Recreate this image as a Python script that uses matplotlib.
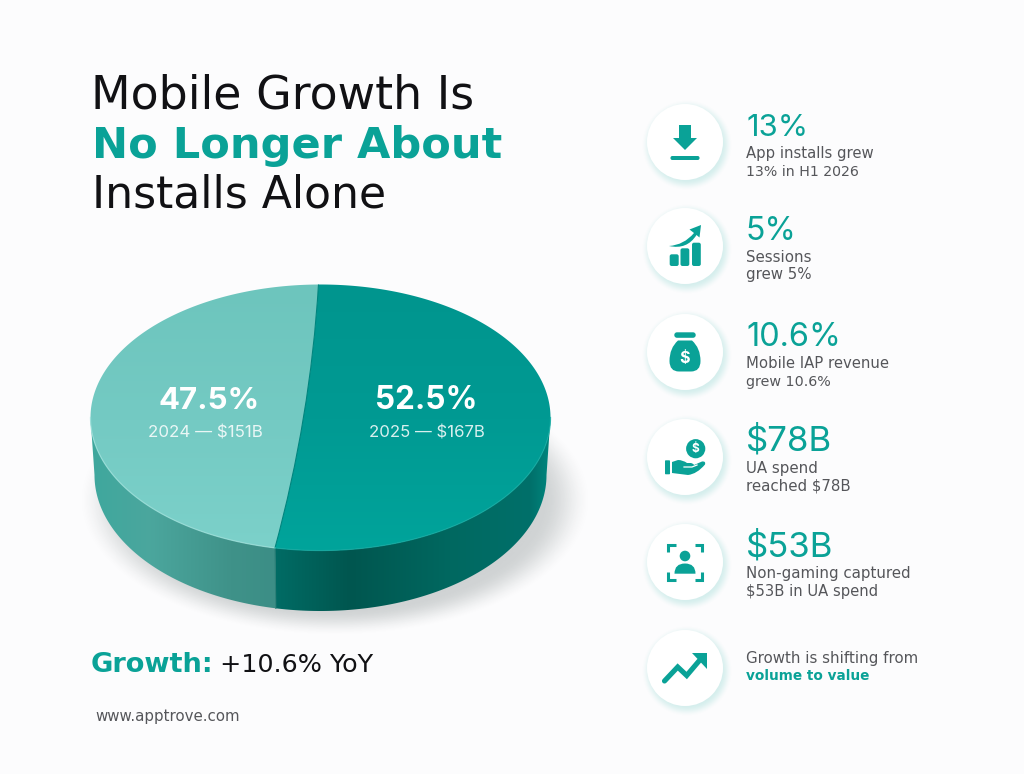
import numpy as np
import matplotlib
matplotlib.use("Agg")
import matplotlib.pyplot as plt
from matplotlib.path import Path
from matplotlib.patches import PathPatch, Circle, FancyBboxPatch
from matplotlib.colors import to_rgb

# ---------- data ----------
years = ["2024", "2025"]
revenue_b = [151, 167]
shares = [47.5, 52.5]
growth_yoy = 10.6
metric_heads = ["13%", "5%", "10.6%", "$78B", "$53B"]
metric_line1 = ["App installs grew", "Sessions", "Mobile IAP revenue", "UA spend", "Non-gaming captured"]
metric_line2 = ["13% in H1 2026", "grew 5%", "grew 10.6%", "reached $78B", "$53B in UA spend"]
title_lines = ["Mobile Growth Is", "No Longer About", "Installs Alone"]

# ---------- style ----------
W, H = 1024, 774
BG = "#FCFCFD"
TEAL = "#0AA297"
INK = "#111114"
GREY = "#55565A"
FONT = "DejaVu Sans"
LABEL_FONT = "Inter"

fig = plt.figure(figsize=(W / 100, H / 100), dpi=100, facecolor=BG)
ax = fig.add_axes([0, 0, 1, 1])
ax.set_xlim(0, W)
ax.set_ylim(H, 0)
ax.axis("off")
ax.set_autoscale_on(False)
renderer = fig.canvas.get_renderer()


def fit(text, x, y, width, color=INK, weight="normal", family=FONT, alpha=1.0, z=20, lo=None, hi=None):
    t = ax.text(x, y, text, ha="left", va="baseline", color=color, fontweight=weight,
                family=family, fontsize=20, alpha=alpha, zorder=z)
    w = t.get_window_extent(renderer).width
    size = 20 * width / w
    if lo is not None:
        size = max(size, lo)
    if hi is not None:
        size = min(size, hi)
    t.set_fontsize(size)
    return t


def smooth(a, b, v):
    u = np.clip((v - a) / (b - a), 0, 1)
    return u * u * (3 - 2 * u)


def ramp(stops, n=512):
    pos = np.array([s[0] for s in stops], float)
    cols = np.array([to_rgb(s[1]) for s in stops])
    u = np.linspace(pos[0], pos[-1], n)
    return np.stack([np.interp(u, pos, cols[:, i]) for i in range(3)], axis=-1)


def gradient(path, stops, horizontal, z):
    xs, ys = path.vertices[:, 0], path.vertices[:, 1]
    x0, x1, y0, y1 = xs.min() - 2, xs.max() + 2, ys.min() - 2, ys.max() + 2
    a0, a1 = (x0, x1) if horizontal else (y0, y1)
    pos = np.array([s[0] for s in stops], float)
    cols = np.array([to_rgb(s[1]) for s in stops])
    u = np.linspace(a0, a1, 512)
    line = np.stack([np.interp(u, pos, cols[:, i]) for i in range(3)], axis=-1)
    img = line[None, :, :] if horizontal else line[:, None, :]
    im = ax.imshow(img, extent=(x0, x1, y1, y0), aspect="auto", interpolation="bilinear", zorder=z)
    patch = PathPatch(path, transform=ax.transData, facecolor="none", edgecolor="none")
    ax.add_patch(patch)
    im.set_clip_path(patch)


def soft_shadow(cx, cy, rx, ry, inner, outer, peak, color, z):
    x0, x1, y0, y1 = cx - outer * rx - 2, cx + outer * rx + 2, cy - outer * ry - 2, cy + outer * ry + 2
    xx, yy = np.meshgrid(np.linspace(x0, x1, int(x1 - x0)), np.linspace(y0, y1, int(y1 - y0)))
    d = np.hypot((xx - cx) / rx, (yy - cy) / ry)
    img = np.zeros(d.shape + (4,))
    img[..., :3] = to_rgb(color)
    img[..., 3] = peak * (1 - smooth(inner, outer, d))
    ax.imshow(img, extent=(x0, x1, y1, y0), aspect="auto", interpolation="bilinear", zorder=z)


# ---------- pie ----------
CX, CY, RX, RY = 320.5, 417.5, 230.0, 133.0
BX, BY, BRX, BRY = 320.5, 475.0, 226.0, 136.0
START = 90.5
PERSPECTIVE = [0.983, 1.0154]  # foreshortening of the tilted disc


def pt(theta, cx=CX, cy=CY, rx=RX, ry=RY):
    r = np.radians(theta)
    return np.stack([cx + rx * np.cos(r), cy - ry * np.sin(r)], axis=-1)


sweeps = [s / 100 * 360 * p for s, p in zip(shares, PERSPECTIVE)]
edges = np.cumsum([START] + sweeps)
divider_end = edges[1]
ctrl = (CX - 10, CY)

soft_shadow(335, 500, 230, 122, 0.90, 1.12, 0.20, "#1E2E2E", 1)

# side wall
wall_stops = [
    [(92, "#3FA89E"), (150, "#4BA69D"), (230, "#3F9289"), (274, "#3C8E86")],
    [(274, "#006C65"), (350, "#00564F"), (450, "#006860"), (530, "#00706A"), (549, "#00857D")],
]
wall_ranges = [(180.0, divider_end), (divider_end, 360.0)]
for (a0, a1), stops in zip(wall_ranges, wall_stops):
    th = np.linspace(a0, a1, 160)
    verts = np.vstack([pt(th), pt(th[::-1], BX, BY, BRX, BRY)])
    path = Path(np.vstack([verts, verts[:1]]), closed=True)
    gradient(path, stops, True, 3)
top_b = pt(divider_end)
bot_b = pt(divider_end, BX, BY, BRX, BRY)
ax.plot([top_b[0], bot_b[0]], [top_b[1], bot_b[1]], color="#2C8078", lw=0.8, zorder=4)

# top surface
top_stops = [
    [(285, "#6DC5BD"), (420, "#74CAC3"), (552, "#7CD1CA")],
    [(285, "#00958E"), (420, "#009A93"), (552, "#00A49B")],
]
for i, stops in enumerate(top_stops):
    th = np.linspace(edges[i], edges[i + 1], 240)
    arc = pt(th)
    end = arc[0]
    verts = np.vstack([arc, [ctrl], [end]])
    codes = [Path.MOVETO] + [Path.LINETO] * (len(arc) - 1) + [Path.CURVE3, Path.CURVE3]
    gradient(Path(verts, codes), stops, False, 5)
d_top, d_bot = pt(edges[0]), pt(edges[1])
ax.add_patch(PathPatch(Path([d_top, ctrl, d_bot], [Path.MOVETO, Path.CURVE3, Path.CURVE3]),
                       facecolor="none", edgecolor="#00857E", lw=0.8, zorder=6))
rim = pt(np.linspace(180, divider_end, 120))
ax.plot(rim[:, 0], rim[:, 1], color="#9BE0DA", lw=0.9, alpha=0.8, zorder=6)
rim = pt(np.linspace(divider_end, 360, 120))
ax.plot(rim[:, 0], rim[:, 1], color="#12ABA2", lw=0.9, alpha=0.8, zorder=6)

# pie labels
pct_x = [(158, 101), (375, 102)]
sub_x = [(148, 115), (369, 116)]
for i in range(2):
    fit(f"{shares[i]:.1f}%", pct_x[i][0], 409, pct_x[i][1], "white", "bold", LABEL_FONT)
    fit(f"{years[i]} \u2014 ${revenue_b[i]}B", sub_x[i][0], 437.5, sub_x[i][1], "white",
        "normal", LABEL_FONT, alpha=0.85)

# ---------- left text ----------
fit(title_lines[0], 91, 108.5, 383)
fit(title_lines[1], 92, 158, 410, TEAL, "bold")
fit(title_lines[2], 92, 207.5, 295)
fit("Growth:", 91, 672.5, 123, TEAL, "bold")
fit(f"+{growth_yoy}% YoY", 220, 672.5, 153)
fit("www.apptrove.com", 95, 720.5, 144, GREY)

# ---------- right column ----------
ICON_X = 685
ICON_Y = [142, 246, 352, 457, 562, 668]
for cy in ICON_Y:
    soft_shadow(ICON_X + 2, cy + 3, 1, 1, 35, 46, 0.30, "#7CCFC8", 7)
    ax.add_patch(Circle((ICON_X, cy), 38, facecolor="white", edgecolor="none", zorder=8))

head_w = [62, 51, 95, 89, 92]
l1_w = [128, 67, 143, 72, 166]
l2_w = [105, 66, 85, 106, 131]
head_y = [136, 240, 346, 450, 556]
l1_y = [158, 262, 368, 472.5, 578]
l2_y = [176, 279.5, 386, 490.5, 596]
for i in range(5):
    fit(metric_heads[i], 746, head_y[i], head_w[i], TEAL, family=LABEL_FONT, lo=22, hi=25)
    fit(metric_line1[i], 746, l1_y[i], l1_w[i], GREY, lo=10.2, hi=10.8)
    fit(metric_line2[i], 746, l2_y[i], l2_w[i], GREY, lo=10.2, hi=10.8)
fit("Growth is shifting from", 746, 663, 173, GREY, lo=10.2, hi=10.8)
fit("volume to value", 746, 680.5, 123, TEAL, "bold")


def poly(cx, cy, pts, color=TEAL, z=9):
    ax.fill([cx + p[0] for p in pts], [cy + p[1] for p in pts], color=color, lw=0, zorder=z)


def rbox(x0, y0, x1, y1, r, color=TEAL, z=9):
    ax.add_patch(FancyBboxPatch((x0, y0), x1 - x0, y1 - y0, boxstyle=f"round,pad=0,rounding_size={r}",
                                facecolor=color, edgecolor="none", zorder=z))


def curve(cx, cy, cmds, color=TEAL, z=9):
    verts, codes = [], []
    for code, p in cmds:
        verts.append((cx + p[0], cy + p[1]))
        codes.append(code)
    ax.add_patch(PathPatch(Path(verts, codes), facecolor=color, edgecolor="none", zorder=z))


M, L, Q = Path.MOVETO, Path.LINETO, Path.CURVE3
# download
c = ICON_Y[0]
poly(ICON_X, c, [(-6, -17), (6, -17), (6, -4), (12, -4), (0, 8), (-12, -4), (-6, -4)])
rbox(ICON_X - 14.5, c + 14, ICON_X + 14.5, c + 18, 1.8)
# rising bars
c = ICON_Y[1]
rbox(ICON_X - 15.3, c + 8.3, ICON_X - 6.3, c + 20, 2)
rbox(ICON_X - 4.5, c + 2.3, ICON_X + 4.3, c + 20, 2)
rbox(ICON_X + 7, c - 3.3, ICON_X + 15.8, c + 20, 2)
curve(ICON_X, c, [(M, (-16, 0)), (Q, (-1, -1)), (Q, (9, -13)), (L, (4.5, -16.5)), (L, (16, -21)),
                  (L, (14.5, -8.5)), (L, (11.5, -11)), (Q, (2, 4)), (Q, (-16, 0))])
# money bag
c = ICON_Y[2]
rbox(ICON_X - 10.7, c - 19.7, ICON_X + 10.7, c - 14.2, 2.7)
curve(ICON_X, c, [(M, (-7, -11.5)), (L, (7, -11.5)), (Q, (15.5, -4)), (Q, (15.5, 9)), (Q, (15.5, 19.5)), (Q, (6, 19.5)),
                  (L, (-6, 19.5)), (Q, (-15.5, 19.5)), (Q, (-15.5, 9)), (Q, (-15.5, -4)), (Q, (-7, -11.5))])
ax.text(ICON_X, c + 6.5, "$", color="white", ha="center", va="center", fontsize=11.5, fontweight="bold",
        family=LABEL_FONT, zorder=10)
# hand and coin
c = ICON_Y[3]
ax.add_patch(Circle((ICON_X + 10.7, c - 8.3), 9.6, facecolor=TEAL, edgecolor="none", zorder=9))
ax.text(ICON_X + 10.7, c - 8.3, "$", color="white", ha="center", va="center", fontsize=8.5, fontweight="bold",
        family=LABEL_FONT, zorder=10)
rbox(ICON_X - 20, c + 3.3, ICON_X - 15, c + 17.3, 0.8)
curve(ICON_X, c, [(M, (-13, 5)), (L, (-7, 3)), (Q, (-2, 3)), (Q, (2, 6)), (L, (6, 6)), (Q, (9, 7)),
                  (Q, (9, 8)), (L, (17, 4.5)), (Q, (21, 4)), (Q, (20, 7.5)),
                  (Q, (12, 17)), (Q, (3, 18)), (L, (-13, 16)), (L, (-13, 5))])
ax.plot([ICON_X - 1, ICON_X + 7, ICON_X + 12], [c + 10, c + 10, c + 8], color="white", lw=0.9, zorder=10)
# person in a frame
c = ICON_Y[4]
for sx in (-1, 1):
    for sy, yc in ((-1, -0.5), (1, 0.5)):
        xs = [ICON_X + sx * 9.5, ICON_X + sx * 17, ICON_X + sx * 17]
        ys = [c + yc + sy * 17, c + yc + sy * 17, c + yc + sy * 9.5]
        ax.plot(xs, ys, color=TEAL, lw=2.2, solid_joinstyle="miter", solid_capstyle="butt", zorder=9)
ax.add_patch(Circle((ICON_X, c - 6), 5.3, facecolor=TEAL, edgecolor="none", zorder=9))
curve(ICON_X, c, [(M, (-10.5, 11.7)), (Q, (-10.5, 1.5)), (Q, (0, 1.5)), (Q, (10.5, 1.5)), (Q, (10.5, 11.7)),
                  (L, (-10.5, 11.7))])
# trend arrow
c = ICON_Y[5]
tx = [-20.5, -7.3, 1.7, 14]
ty = [13, -1, 7.5, -7]
ax.plot([ICON_X + v for v in tx], [c + v for v in ty], color=TEAL, lw=3.7, solid_capstyle="round",
        solid_joinstyle="miter", zorder=9)
poly(ICON_X, c, [(6.7, -15), (22.3, -15), (22.3, 0.7)])

fig.savefig("out.png", dpi=100, facecolor=BG)
